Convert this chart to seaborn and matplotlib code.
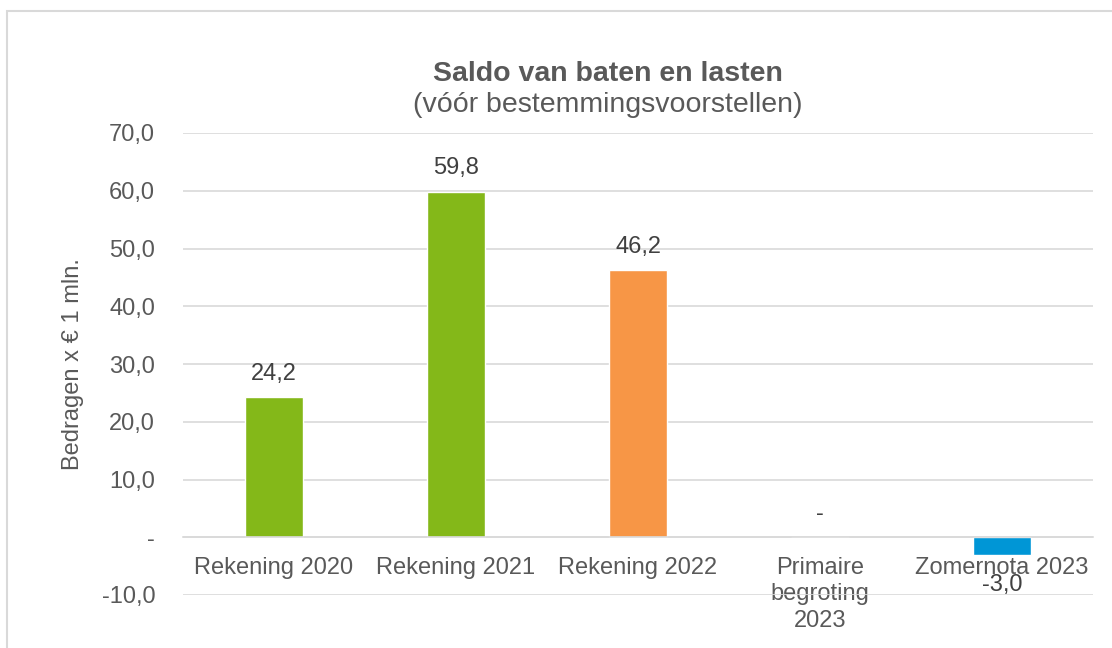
import seaborn as sns
import pandas as pd
import matplotlib.pyplot as plt
from matplotlib.patches import Rectangle

categories = ["Rekening 2020", "Rekening 2021", "Rekening 2022", "Primaire\nbegroting\n2023", "Zomernota 2023"]
values = [24.2, 59.8, 46.2, 0.0, -3.0]
colors = ["#84B819", "#84B819", "#F79646", "#84B819", "#0096D6"]
yticks = [-10, 0, 10, 20, 30, 40, 50, 60, 70]

df = pd.DataFrame(dict(cat=categories, val=values))

sns.set_theme(style="white")
plt.rcParams['font.family'] = ['Liberation Sans', 'DejaVu Sans']

FS = 17

fig = plt.figure(figsize=(11.12, 6.48), dpi=100)
ax = fig.add_axes([183 / 1112, 1 - 595 / 648, (1093 - 183) / 1112, (595 - 133) / 648])

sns.barplot(data=df, x="cat", y="val", hue="cat", palette=colors, legend=False,
            width=0.32, saturation=1, ax=ax)

ax.set_ylim(-10, 70)
ax.set_xlim(-0.5, 4.5)
ax.set_yticks(yticks)
ax.set_yticklabels(["-" if t == 0 else f"{t:.1f}".replace(".", ",") for t in yticks])
ax.yaxis.grid(True, color="#D9D9D9", linewidth=1.2)
ax.set_axisbelow(True)
for s in ["top", "right", "left"]:
    ax.spines[s].set_visible(False)
ax.spines["bottom"].set_position(("data", 0))
ax.spines["bottom"].set_color("#D9D9D9")
ax.spines["bottom"].set_linewidth(1.2)
ax.tick_params(axis="both", length=0, labelsize=FS, labelcolor="#595959")
ax.tick_params(axis="y", pad=20)
ax.tick_params(axis="x", pad=14)
for lbl in ax.get_xticklabels():
    lbl.set_linespacing(1.26)
ax.set_xlabel("")
ax.set_ylabel("Bedragen x € 1 mln.", fontsize=FS, color="#595959")
ax.yaxis.set_label_coords((84 - 183) / 910, 0.5)

# data labels
for i, v in enumerate(values):
    if v == 0:
        txt = "-"
    else:
        txt = f"{v:.1f}".replace(".", ",")
    if v >= 0:
        ax.annotate(txt, (i, v), xytext=(0, 9), textcoords="offset points",
                    ha="center", va="bottom", fontsize=FS, color="#404040")
    else:
        ax.annotate(txt, (i, v), xytext=(0, -14), textcoords="offset points",
                    ha="center", va="top", fontsize=FS, color="#404040")

fig.text(608 / 1112, 1 - 74 / 648, "Saldo van baten en lasten", ha="center", va="center",
         fontsize=20.5, fontweight="bold", color="#595959")
fig.text(608 / 1112, 1 - 105 / 648, "(vóór bestemmingsvoorstellen)", ha="center", va="center",
         fontsize=20.5, color="#595959")

fig.patches.append(Rectangle((7 / 1112, -0.1), 1.2, 1.1 - 11 / 648, transform=fig.transFigure,
                             fill=False, edgecolor="#D9D9D9", linewidth=1.5))

fig.savefig("out.png", dpi=100)
